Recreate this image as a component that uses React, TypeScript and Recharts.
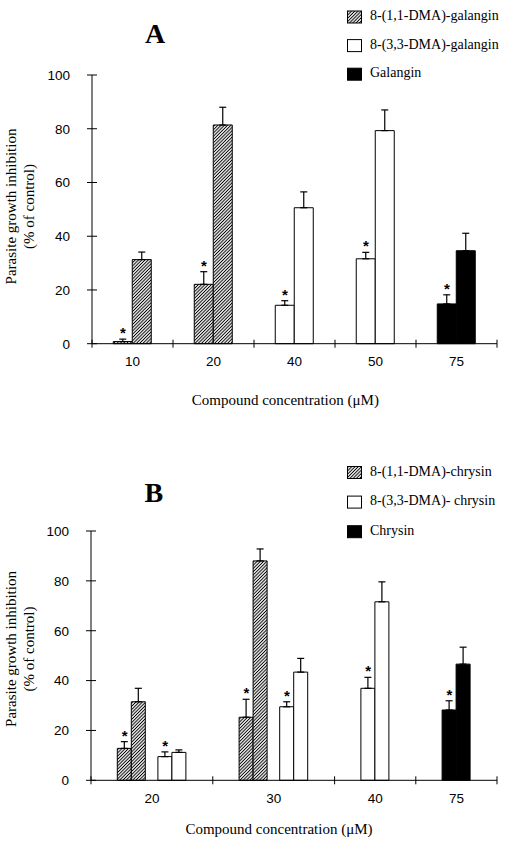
import React from 'react';
import { ComposedChart, Bar, XAxis, YAxis, ErrorBar, Scatter, Cell } from 'recharts';

const SANS = '"Liberation Sans", Arial, Helvetica, sans-serif';
const SERIF = '"Liberation Serif", "Times New Roman", Times, serif';

// ---------- Panel A (galangin series) ----------
const concA = ['10', '20', '40', '50', '75'];
const kindA = [0, 0, 1, 1, 2]; // 0 = 8-(1,1-DMA), 1 = 8-(3,3-DMA), 2 = parent compound
const firstA = [0.8, 22.1, 14.3, 31.6, 14.8];
const firstErrA = [0.9, 4.7, 1.7, 2.4, 3.4];
const secondA = [31.3, 81.4, 50.6, 79.3, 34.6];
const secondErrA = [2.8, 6.6, 5.9, 7.7, 6.5];
const legendA = ['8-(1,1-DMA)-galangin', '8-(3,3-DMA)-galangin', 'Galangin'];

// ---------- Panel B (chrysin series) ----------
const concB = ['20', '20', '30', '30', '40', '75'];
const kindB = [0, 1, 0, 1, 1, 2];
const firstB = [12.8, 9.5, 25.3, 29.5, 36.9, 28.2];
const firstErrB = [2.7, 1.9, 7.2, 2.0, 4.4, 3.7];
const secondB = [31.5, 11.2, 88.0, 43.4, 71.6, 46.6];
const secondErrB = [5.4, 1.0, 4.8, 5.5, 8.0, 6.8];
const legendB = ['8-(1,1-DMA)-chrysin', '8-(3,3-DMA)- chrysin', 'Chrysin'];

const yTicks = [0, 20, 40, 60, 80, 100];
const yTitle = ['Parasite growth inhibition', '(% of control)'];
const xTitle = 'Compound concentration (\u03BCM)';

const FILLS = ['url(#hatch)', '#ffffff', '#000000'];

type Row = {
  slot: string;
  pos: number;
  kind: number | null;
  first: number | null;
  firstErr: number | null;
  second: number | null;
  secondErr: number | null;
  star: number | null;
};

function buildPanel(
  conc: string[],
  kinds: number[],
  first: number[],
  firstErr: number[],
  second: number[],
  secondErr: number[]
) {
  const groups: { label: string; items: number[] }[] = [];
  conc.forEach((c, i) => {
    const g = groups[groups.length - 1];
    if (g && g.label === c) g.items.push(i);
    else groups.push({ label: c, items: [i] });
  });
  const rows: Row[] = [];
  const boundaries: number[] = [0];
  const centers: { value: number; label: string }[] = [];
  let cursor = 0;
  groups.forEach((g, gi) => {
    if (gi > 0)
      rows.push({
        slot: String(cursor),
        pos: cursor,
        kind: null,
        first: null,
        firstErr: null,
        second: null,
        secondErr: null,
        star: null,
      });
    g.items.forEach((idx, k) => {
      rows.push({
        slot: String(cursor + k + 1),
        pos: cursor + k + 1,
        kind: kinds[idx],
        first: first[idx],
        firstErr: firstErr[idx],
        second: second[idx],
        secondErr: secondErr[idx],
        star: first[idx] + firstErr[idx],
      });
    });
    const w = g.items.length + 1;
    centers.push({ value: cursor + w / 2, label: g.label });
    cursor += w;
    boundaries.push(cursor);
  });
  const ticks = [...boundaries, ...centers.map((c) => c.value)].sort((a, b) => a - b);
  return { rows, boundaries, centers, ticks, total: cursor };
}

const panelA = buildPanel(concA, kindA, firstA, firstErrA, secondA, secondErrA);
const panelB = buildPanel(concB, kindB, firstB, firstErrB, secondB, secondErrB);

type Cfg = {
  top: number;
  height: number;
  margin: { top: number; right: number; left: number; bottom: number };
  barSize: number;
  title: string;
  titleX: number;
  titleY: number;
  legend: string[];
  legendY0: number;
  legendStep: number;
  yLabelCy: number;
  xLabelX: number;
  xLabelY: number;
};

const Y_AXIS_W = 60;
const X_AXIS_H = 30;
const W = 508;

const cfgA: Cfg = {
  top: 0,
  height: 420,
  margin: { top: 75, right: 11, left: 92 - Y_AXIS_W, bottom: 420 - 343.7 - X_AXIS_H },
  barSize: 19,
  title: 'A',
  titleX: 155,
  titleY: 42.5,
  legend: legendA,
  legendY0: 17,
  legendStep: 28.6,
  yLabelCy: 206.5,
  xLabelX: 285.3,
  xLabelY: 405,
};

const cfgB: Cfg = {
  top: 420,
  height: 425,
  margin: { top: 111, right: 11, left: 91 - Y_AXIS_W, bottom: 425 - 360.3 - X_AXIS_H },
  barSize: 14,
  title: 'B',
  titleX: 153.8,
  titleY: 82.3,
  legend: legendB,
  legendY0: 52.5,
  legendStep: 29.6,
  yLabelCy: 229,
  xLabelX: 279,
  xLabelY: 414,
};

const YTick = (props: any) => {
  const { x, y, payload } = props;
  return (
    <g>
      <line x1={x - 5} x2={x + 5} y1={y} y2={y} stroke="#000" strokeWidth={1} />
      <text x={x - 22} y={y + 4.8} textAnchor="end" fontFamily={SANS} fontSize={13.5} fill="#000">
        {payload.value}
      </text>
    </g>
  );
};

const makeXTick = (centers: { value: number; label: string }[]) => (props: any) => {
  const { x, y, payload } = props;
  const c = centers.find((cc) => Math.abs(cc.value - payload.value) < 1e-6);
  if (c) {
    return (
      <text x={x} y={y + 22.5} textAnchor="middle" fontFamily={SANS} fontSize={13.5} fill="#000">
        {c.label}
      </text>
    );
  }
  return <line x1={x} x2={x} y1={y - 4} y2={y + 4} stroke="#000" strokeWidth={1} />;
};

const YTitle = ({ lcy }: { lcy: number }) => (
  <g>
    <text
      x={16.3}
      y={lcy}
      transform={`rotate(-90, 16.3, ${lcy})`}
      textAnchor="middle"
      fontFamily={SERIF}
      fontSize={15}
      fill="#000"
    >
      {yTitle[0]}
    </text>
    <text
      x={34}
      y={lcy}
      transform={`rotate(-90, 34, ${lcy})`}
      textAnchor="middle"
      fontFamily={SERIF}
      fontSize={15}
      fill="#000"
    >
      {yTitle[1]}
    </text>
  </g>
);

const XTitle = ({ lx, ly }: { lx: number; ly: number }) => (
  <text x={lx} y={ly} textAnchor="middle" fontFamily={SERIF} fontSize={15} fill="#000">
    {xTitle}
  </text>
);

function Panel({ panel, cfg }: { panel: ReturnType<typeof buildPanel>; cfg: Cfg }) {
  const plotW = W - cfg.margin.left - Y_AXIS_W - cfg.margin.right;
  const pad = plotW / (2 * panel.total);
  const bs = cfg.barSize;
  const StarShape = (p: any) => {
    const { cx, cy, payload } = p;
    if (!payload || payload.star == null || !Number.isFinite(cx) || !Number.isFinite(cy)) return <g />;
    return (
      <text
        x={cx - bs / 2}
        y={cy - 1}
        textAnchor="middle"
        fontFamily={SANS}
        fontWeight="bold"
        fontSize={15}
        fill="#000"
      >
        *
      </text>
    );
  };
  return (
    <div style={{ position: 'absolute', left: 0, top: cfg.top, width: W, height: cfg.height }}>
      <ComposedChart width={W} height={cfg.height} data={panel.rows} margin={cfg.margin} barGap={0}>
        <XAxis
          xAxisId="slot"
          dataKey="slot"
          type="category"
          hide
          height={0}
          padding={{ left: pad, right: pad }}
        />
        <XAxis
          xAxisId="tk"
          dataKey="pos"
          type="number"
          domain={[0, panel.total]}
          allowDataOverflow
          ticks={panel.ticks}
          interval={0}
          height={X_AXIS_H}
          tickSize={0}
          tickMargin={0}
          tickLine={false}
          axisLine={{ stroke: '#000', strokeWidth: 1 }}
          tick={makeXTick(panel.centers)}
          label={<XTitle lx={cfg.xLabelX} ly={cfg.xLabelY} />}
        />
        <YAxis
          type="number"
          domain={[0, 100]}
          ticks={yTicks}
          interval={0}
          width={Y_AXIS_W}
          tickSize={0}
          tickMargin={0}
          tickLine={false}
          axisLine={{ stroke: '#000', strokeWidth: 1 }}
          tick={YTick}
          label={<YTitle lcy={cfg.yLabelCy} />}
        />
        <Bar xAxisId="slot" dataKey="first" barSize={bs} stroke="#000" strokeWidth={1} isAnimationActive={false}>
          {panel.rows.map((r, i) => (
            <Cell key={`f${i}`} fill={r.kind == null ? 'none' : FILLS[r.kind]} />
          ))}
          <ErrorBar
            dataKey={(d: Row) => (d.firstErr == null ? null : [0, d.firstErr])}
            width={3.5}
            stroke="#000"
            strokeWidth={1.2}
            direction="y"
            isAnimationActive={false}
          />
        </Bar>
        <Bar xAxisId="slot" dataKey="second" barSize={bs} stroke="#000" strokeWidth={1} isAnimationActive={false}>
          {panel.rows.map((r, i) => (
            <Cell key={`s${i}`} fill={r.kind == null ? 'none' : FILLS[r.kind]} />
          ))}
          <ErrorBar
            dataKey={(d: Row) => (d.secondErr == null ? null : [0, d.secondErr])}
            width={3.5}
            stroke="#000"
            strokeWidth={1.2}
            direction="y"
            isAnimationActive={false}
          />
        </Bar>
        <Scatter xAxisId="slot" dataKey="star" shape={StarShape} isAnimationActive={false} />
      </ComposedChart>
      <svg width={W} height={cfg.height} style={{ position: 'absolute', left: 0, top: 0, pointerEvents: 'none' }}>
        <text
          x={cfg.titleX}
          y={cfg.titleY}
          textAnchor="middle"
          fontFamily={SERIF}
          fontWeight="bold"
          fontSize={28}
          fill="#000"
        >
          {cfg.title}
        </text>
        {cfg.legend.map((name, i) => {
          const cy = cfg.legendY0 + i * cfg.legendStep;
          return (
            <g key={name}>
              <rect x={347.5} y={cy - 6} width={14} height={12} fill={FILLS[i]} stroke="#000" strokeWidth={1} />
              <text x={370} y={cy + 3} fontFamily={SERIF} fontSize={14} fill="#000">
                {name}
              </text>
            </g>
          );
        })}
      </svg>
    </div>
  );
}

export default function App() {
  return (
    <div style={{ position: 'absolute', left: 0, top: 0, width: W, height: 845, background: '#fff' }}>
      <svg width={0} height={0} style={{ position: 'absolute' }}>
        <defs>
          <pattern id="hatch" patternUnits="userSpaceOnUse" width={2.3} height={2.3} patternTransform="rotate(45)">
            <rect x={0} y={0} width={2.3} height={2.3} fill="#fff" />
            <line x1={1.15} y1={0} x2={1.15} y2={2.3} stroke="#000" strokeWidth={1} />
          </pattern>
        </defs>
      </svg>
      <Panel panel={panelA} cfg={cfgA} />
      <Panel panel={panelB} cfg={cfgB} />
    </div>
  );
}
